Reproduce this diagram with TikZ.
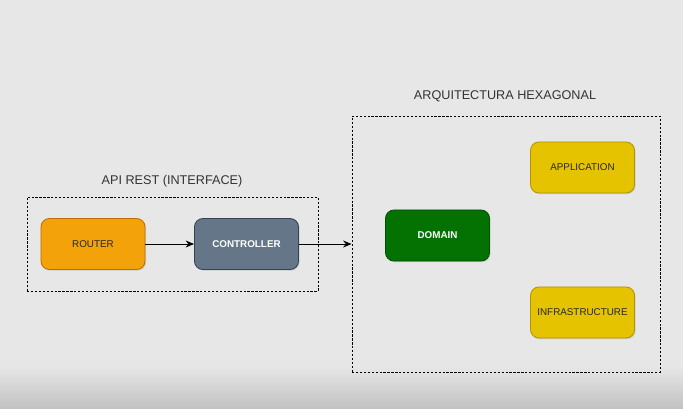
\documentclass[tikz,border=0pt]{standalone}
\usepackage{fontspec}
\setmainfont{Liberation Sans}
\usetikzlibrary{arrows.meta,shadows}

\definecolor{sfondo}{HTML}{E7E7E7}
\definecolor{sfondoscuro}{HTML}{C2C2C2}
\definecolor{arancio}{HTML}{F4A20A}
\definecolor{arancioB}{HTML}{BD7000}
\definecolor{grigioblu}{HTML}{647687}
\definecolor{grigiobluB}{HTML}{314354}
\definecolor{verde}{HTML}{037203}
\definecolor{verdeB}{HTML}{005200}
\definecolor{giallo}{HTML}{E6C300}
\definecolor{gialloB}{HTML}{B09500}
\definecolor{testo}{HTML}{333333}

\tikzset{
    blocco/.style={draw, rounded corners=6pt, line width=0.6pt,
        minimum width=2.6cm, minimum height=1.275cm, inner sep=0pt,
        font=\fontsize{7}{8.4}\selectfont,
        drop shadow={opacity=0.25, shadow xshift=0.8pt, shadow yshift=-0.8pt}},
    riquadro/.style={draw=black, line width=0.6pt, dash pattern=on 1.6pt off 1.2pt},
    titolo/.style={text=testo, font=\fontsize{9}{10.8}\selectfont},
    freccia/.style={-{Stealth[length=6pt,width=5pt]}, line width=0.7pt}
}

\begin{document}
\begin{tikzpicture}[x=0.025cm,y=-0.025cm]
                %sfondo
                \fill[sfondo] (0,0) rectangle (683,408);
                \shade[top color=sfondo, bottom color=sfondoscuro] (0,366) rectangle (683,408);
                \useasboundingbox (0,0) rectangle (683,408);

                %riquadri tratteggiati
                \node[riquadro, minimum width=7.275cm, minimum height=2.35cm] (api) at (172.5,244) {};
                \node[riquadro, minimum width=7.7cm, minimum height=6.4cm] (hex) at (506,244) {};
                \node[titolo] (tapi) at (172,181) {API REST (INTERFACE)};
                \node[titolo] (thex) at (505,96) {ARQUITECTURA HEXAGONAL};

                %5 blocchi
                \node[blocco, fill=arancio, draw=arancioB, text=black!85] (router) at (93,244) {ROUTER};
                \node[blocco, fill=grigioblu, draw=grigiobluB, text=white, font=\fontsize{7}{8.4}\selectfont\bfseries] (controller) at (246.5,244) {CONTROLLER};
                \node[blocco, fill=verde, draw=verdeB, text=white, font=\fontsize{7}{8.4}\selectfont\bfseries] (domain) at (437.5,235.5) {DOMAIN};
                \node[blocco, fill=giallo, draw=gialloB, text=black!85] (application) at (582.5,167.5) {APPLICATION};
                \node[blocco, fill=giallo, draw=gialloB, text=black!85] (infrastructure) at (582.5,312.5) {INFRASTRUCTURE};

                \draw[freccia] (router) -- (controller);
                \draw[freccia] (controller) -- (hex.west);

            \end{tikzpicture}
\end{document}
